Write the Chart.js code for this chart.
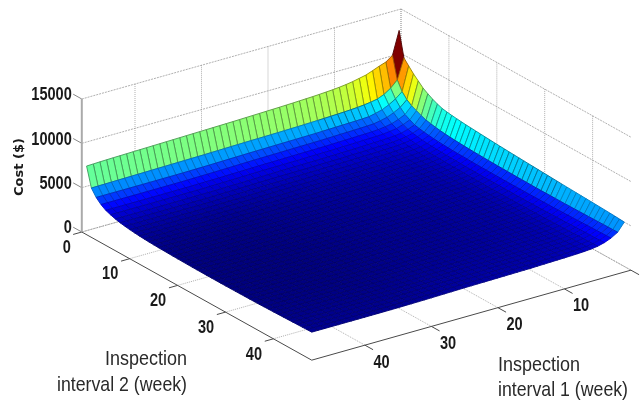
<!DOCTYPE html>
<html><head><meta charset="utf-8">
<style>html,body{margin:0;padding:0;background:#fff;overflow:hidden}canvas{display:block;filter:blur(0.4px)}</style>
<script src="https://cdn.jsdelivr.net/npm/chart.js@4"></script>
</head><body><canvas id="c" width="643" height="403"></canvas>
<script>
// Values (cost in $, index 0 = week 1)
const weekTicks=[0,10,20,30,40];
const costTicks=[0,5000,10000,15000];
const weeksMax=48;
const costAtLastInterval2=[5630,4700,4250,3950,3750,3650,3590,3550,3520,3500,3480,3460,3440,3420,3400,3390,3380,3370,3360,3350,3340,3330,3320,3310,3300,3285,3270,3255,3240,3225,3210,3200,3190,3180,3170,3165,3162,3160,3158,3156,3155,3155,3155,3156,3157,3158,3159,3160];
const costAtLastInterval1=[7740,5560,4800,4300,3950,3750,3580,3450,3360,3280,3220,3170,3130,3100,3075,3055,3040,3025,3010,3000,2990,2982,2975,2970,2965,2962,2960,2960,2960,2962,2965,2970,2975,2980,2985,2990,3002,3015,3028,3040,3055,3070,3085,3100,3115,3130,3145,3160];
const costInterval2Week1=[13100,10500,9950,9700,9400,9120,8960,8800,8680,8590,8520,8470,8420,8380,8350,8320,8290,8265,8240,8220,8200,8180,8160,8140,8120,8100,8085,8070,8055,8040,8025,8010,7995,7980,7965,7950,7935,7920,7905,7890,7875,7860,7845,7830,7810,7790,7765,7740];
const costInterval2Week2=[10300,8020,7300,6800,6500,6360,6260,6190,6140,6100,6070,6040,6010,5985,5960,5940,5920,5905,5890,5875,5860,5850,5840,5830,5820,5805,5790,5775,5760,5745,5730,5720,5710,5700,5690,5680,5670,5660,5650,5640,5630,5620,5610,5600,5590,5580,5570,5560];
const costInterval1Week1=[13100,10300,9690,9100,8600,8100,7750,7450,7200,7000,6900,6820,6760,6700,6650,6610,6570,6530,6490,6450,6415,6380,6350,6315,6285,6255,6225,6195,6170,6140,6110,6085,6055,6030,6000,5975,5950,5925,5900,5875,5850,5825,5800,5775,5745,5715,5680,5630];
const costInterval1Week2=[10500,8020,7000,6400,6000,5750,5500,5300,5180,5080,5000,4930,4880,4840,4800,4770,4745,4720,4700,4680,4665,4650,4640,4630,4620,4610,4600,4595,4590,4580,4580,4580,4585,4590,4590,4595,4600,4605,4610,4620,4630,4640,4650,4660,4670,4680,4690,4700];
const cornerExtra=[[500,350,200,100],[350,250,150,70],[200,150,80,40],[100,70,40,20]]; // weeks 3-6
const colorLimits=[2960,13100];

// Surface table built from the read profiles
function cost(a,b){
  if(b===1)return costInterval2Week1[a-1];
  if(b===2)return costInterval2Week2[a-1];
  if(a===1)return costInterval1Week1[b-1];
  if(a===2)return costInterval1Week2[b-1];
  const extra=(a<=6&&b<=6)?cornerExtra[a-3][b-3]:0;
  return costAtLastInterval2[a-1]+costAtLastInterval1[b-1]-costAtLastInterval2[weeksMax-1]+extra;
}
// 3-D axes projected on the page
const view={ox:401,oy:142,ax:-6.65,ay:1.875,bx:4.79,by:2.67,cz:133/15000};
const P=(a,b,z)=>({x:view.ox+a*view.ax+b*view.bx,y:view.oy+a*view.ay+b*view.by-z*view.cz});
function jet(t,k){
  const c=v=>Math.round(255*k*Math.max(0,Math.min(1,v)));
  const r=1.5-Math.abs(4*t-3),g=1.5-Math.abs(4*t-2),b=1.5-Math.abs(4*t-1);
  return `rgb(${c(r)},${c(g)},${c(b)})`;
}
const datasets=[];
// front-most cells first: Chart.js paints dataset 0 last
for(let s=2*weeksMax-2;s>=2;s--){
  for(let a=Math.max(1,s-weeksMax+1);a<=Math.min(weeksMax-1,s-1);a++){
    const b=s-a;
    if(b<1||b>=weeksMax)continue;
    const pts=[P(a,b,cost(a,b)),P(a+1,b,cost(a+1,b)),P(a+1,b+1,cost(a+1,b+1)),P(a,b+1,cost(a,b+1)),P(a,b,cost(a,b))];
    const t=(cost(a,b)-colorLimits[0])/(colorLimits[1]-colorLimits[0]);
    datasets.push({data:pts,showLine:true,fill:'shape',backgroundColor:jet(t,1),
      borderColor:jet(t,t<0.15?0.78:t<0.3?0.75:0.6),borderWidth:0.9,pointRadius:0,tension:0});
  }
}
function seg(p,q,color,width,dash){
  datasets.push({data:[p,q],showLine:true,fill:false,borderColor:color,borderWidth:width,borderDash:dash||[],pointRadius:0,tension:0});
}
const AX='#4a4a4a',GR='rgba(150,150,150,0.75)';
// axes and ticks
seg(P(weeksMax,0,0),P(weeksMax,weeksMax,0),AX,1);
seg(P(weeksMax,weeksMax,0),P(0,weeksMax,0),AX,1);
seg(P(weeksMax,0,0),P(weeksMax,0,15000),'#aaaaaa',2);
for(const t of weekTicks){
  seg(P(weeksMax,t,0),P(weeksMax+1.3,t,0),AX,1);
  seg(P(t,weeksMax,0),P(t,weeksMax+1.7,0),AX,1);
}
for(const v of costTicks)seg(P(weeksMax,0,v),P(weeksMax,-1.8,v),'#888888',1);
// grid on the back walls and floor
for(const v of costTicks){
  seg(P(weeksMax,0,v),P(0,0,v),GR,1,[2,1]);
  seg(P(0,0,v),P(0,weeksMax,v),GR,1,[2,1]);
}
for(const t of weekTicks){
  seg(P(t,0,0),P(t,0,15000),GR,1,[1,1]);
  seg(P(0,t,0),P(0,t,15000),GR,1,[1,1]);
  seg(P(weeksMax,t,0),P(0,t,0),GR,1,[1,1]);
  seg(P(t,weeksMax,0),P(t,0,0),GR,1,[1,1]);
}
const textPlugin={id:'labels',afterDraw(ch){
  const g=ch.ctx,X=ch.scales.x,Y=ch.scales.y;
  const tx=(s,p,dx,dy,al)=>{g.textAlign=al;g.fillText(s,X.getPixelForValue(p.x)+dx,Y.getPixelForValue(p.y)+dy,8.1*s.length);};
  g.save();g.fillStyle='#1a1a1a';g.textBaseline='middle';
  g.font="bold 19px 'Liberation Sans'";
  for(const v of costTicks)tx(String(v),P(weeksMax,0,v),-10,-4,'right');
  for(const t of weekTicks){
    tx(String(t),P(weeksMax,t,0),t?-19.5:-15,15.5,'center');
    tx(String(t),P(t,weeksMax,0),16.7,17.3,'center');
  }
  g.font="21px 'Liberation Sans'";
  g.fillStyle='#2a2a2a';
  g.textAlign='right';g.fillText('Inspection',187,359,82);g.fillText('interval 2 (week)',187,385,130);
  g.textAlign='left';g.fillText('Inspection',498,365,82);g.fillText('interval 1 (week)',498,390,130);
  g.translate(20,167);g.rotate(-Math.PI/2);g.font="bold 13px 'DejaVu Sans'";g.fillStyle='#1a1a1a';g.textAlign='center';g.fillText('Cost ($)',0,0);
  g.restore();
}};
new Chart(document.getElementById('c'),{type:'scatter',data:{datasets},plugins:[textPlugin],options:{
  responsive:false,animation:false,events:[],
  layout:{padding:0},
  plugins:{legend:{display:false},tooltip:{enabled:false},title:{display:false}},
  scales:{x:{type:'linear',display:false,min:0,max:643},y:{type:'linear',display:false,min:0,max:403,reverse:true}}
}});
</script></body></html>
